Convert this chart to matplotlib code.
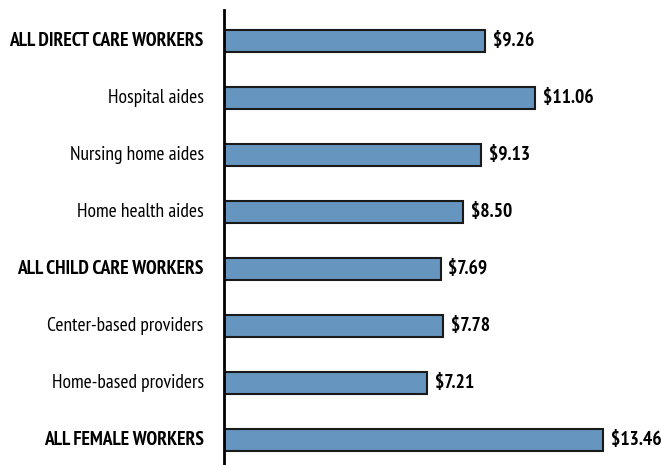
import matplotlib
matplotlib.use("Agg")
import matplotlib.pyplot as plt
from matplotlib import font_manager

# categories top to bottom, hourly wage
labels = ["ALL DIRECT CARE WORKERS", "Hospital aides", "Nursing home aides",
          "Home health aides", "ALL CHILD CARE WORKERS", "Center-based providers",
          "Home-based providers", "ALL FEMALE WORKERS"]
wages = [9.26, 11.06, 9.13, 8.50, 7.69, 7.78, 7.21, 13.46]
bold_rows = [0, 4, 7]

# condensed face if we have one, otherwise plain DejaVu
names = set(f.name for f in font_manager.fontManager.ttflist)
fam = "DejaVu Sans"
for cand in ["PT Sans Narrow", "Fira Sans Condensed", "Roboto Condensed", "Open Sans Condensed",
             "Archivo Narrow", "Liberation Sans Narrow"]:
    if cand in names:
        fam = cand
        break

fig = plt.figure(figsize=(6.62, 4.65), dpi=100)
ax = fig.add_axes([224 / 662, 0, 438 / 662, 455 / 465])

pos = list(range(len(labels)))
ax.barh(pos, wages, height=0.4, color="#6695bf", edgecolor="#1a1a1a", linewidth=1.5)

for i, (lab, w) in enumerate(zip(labels, wages)):
    wt = "bold" if i in bold_rows else "normal"
    ax.text(-0.72, i, lab, ha="right", va="center", fontsize=14, family=fam, fontweight=wt)
    ax.text(w + 0.28, i, f"${w:.2f}", ha="left", va="center", fontsize=14, family=fam, fontweight="bold")

ax.set_xlim(0, 438 / 28.16)
ax.set_ylim(7.44, -0.544)
for s in ["top", "right", "bottom"]:
    ax.spines[s].set_visible(False)
ax.spines["left"].set_linewidth(2)
ax.set_xticks([])
ax.set_yticks([])

fig.savefig("out.png", dpi=100)
